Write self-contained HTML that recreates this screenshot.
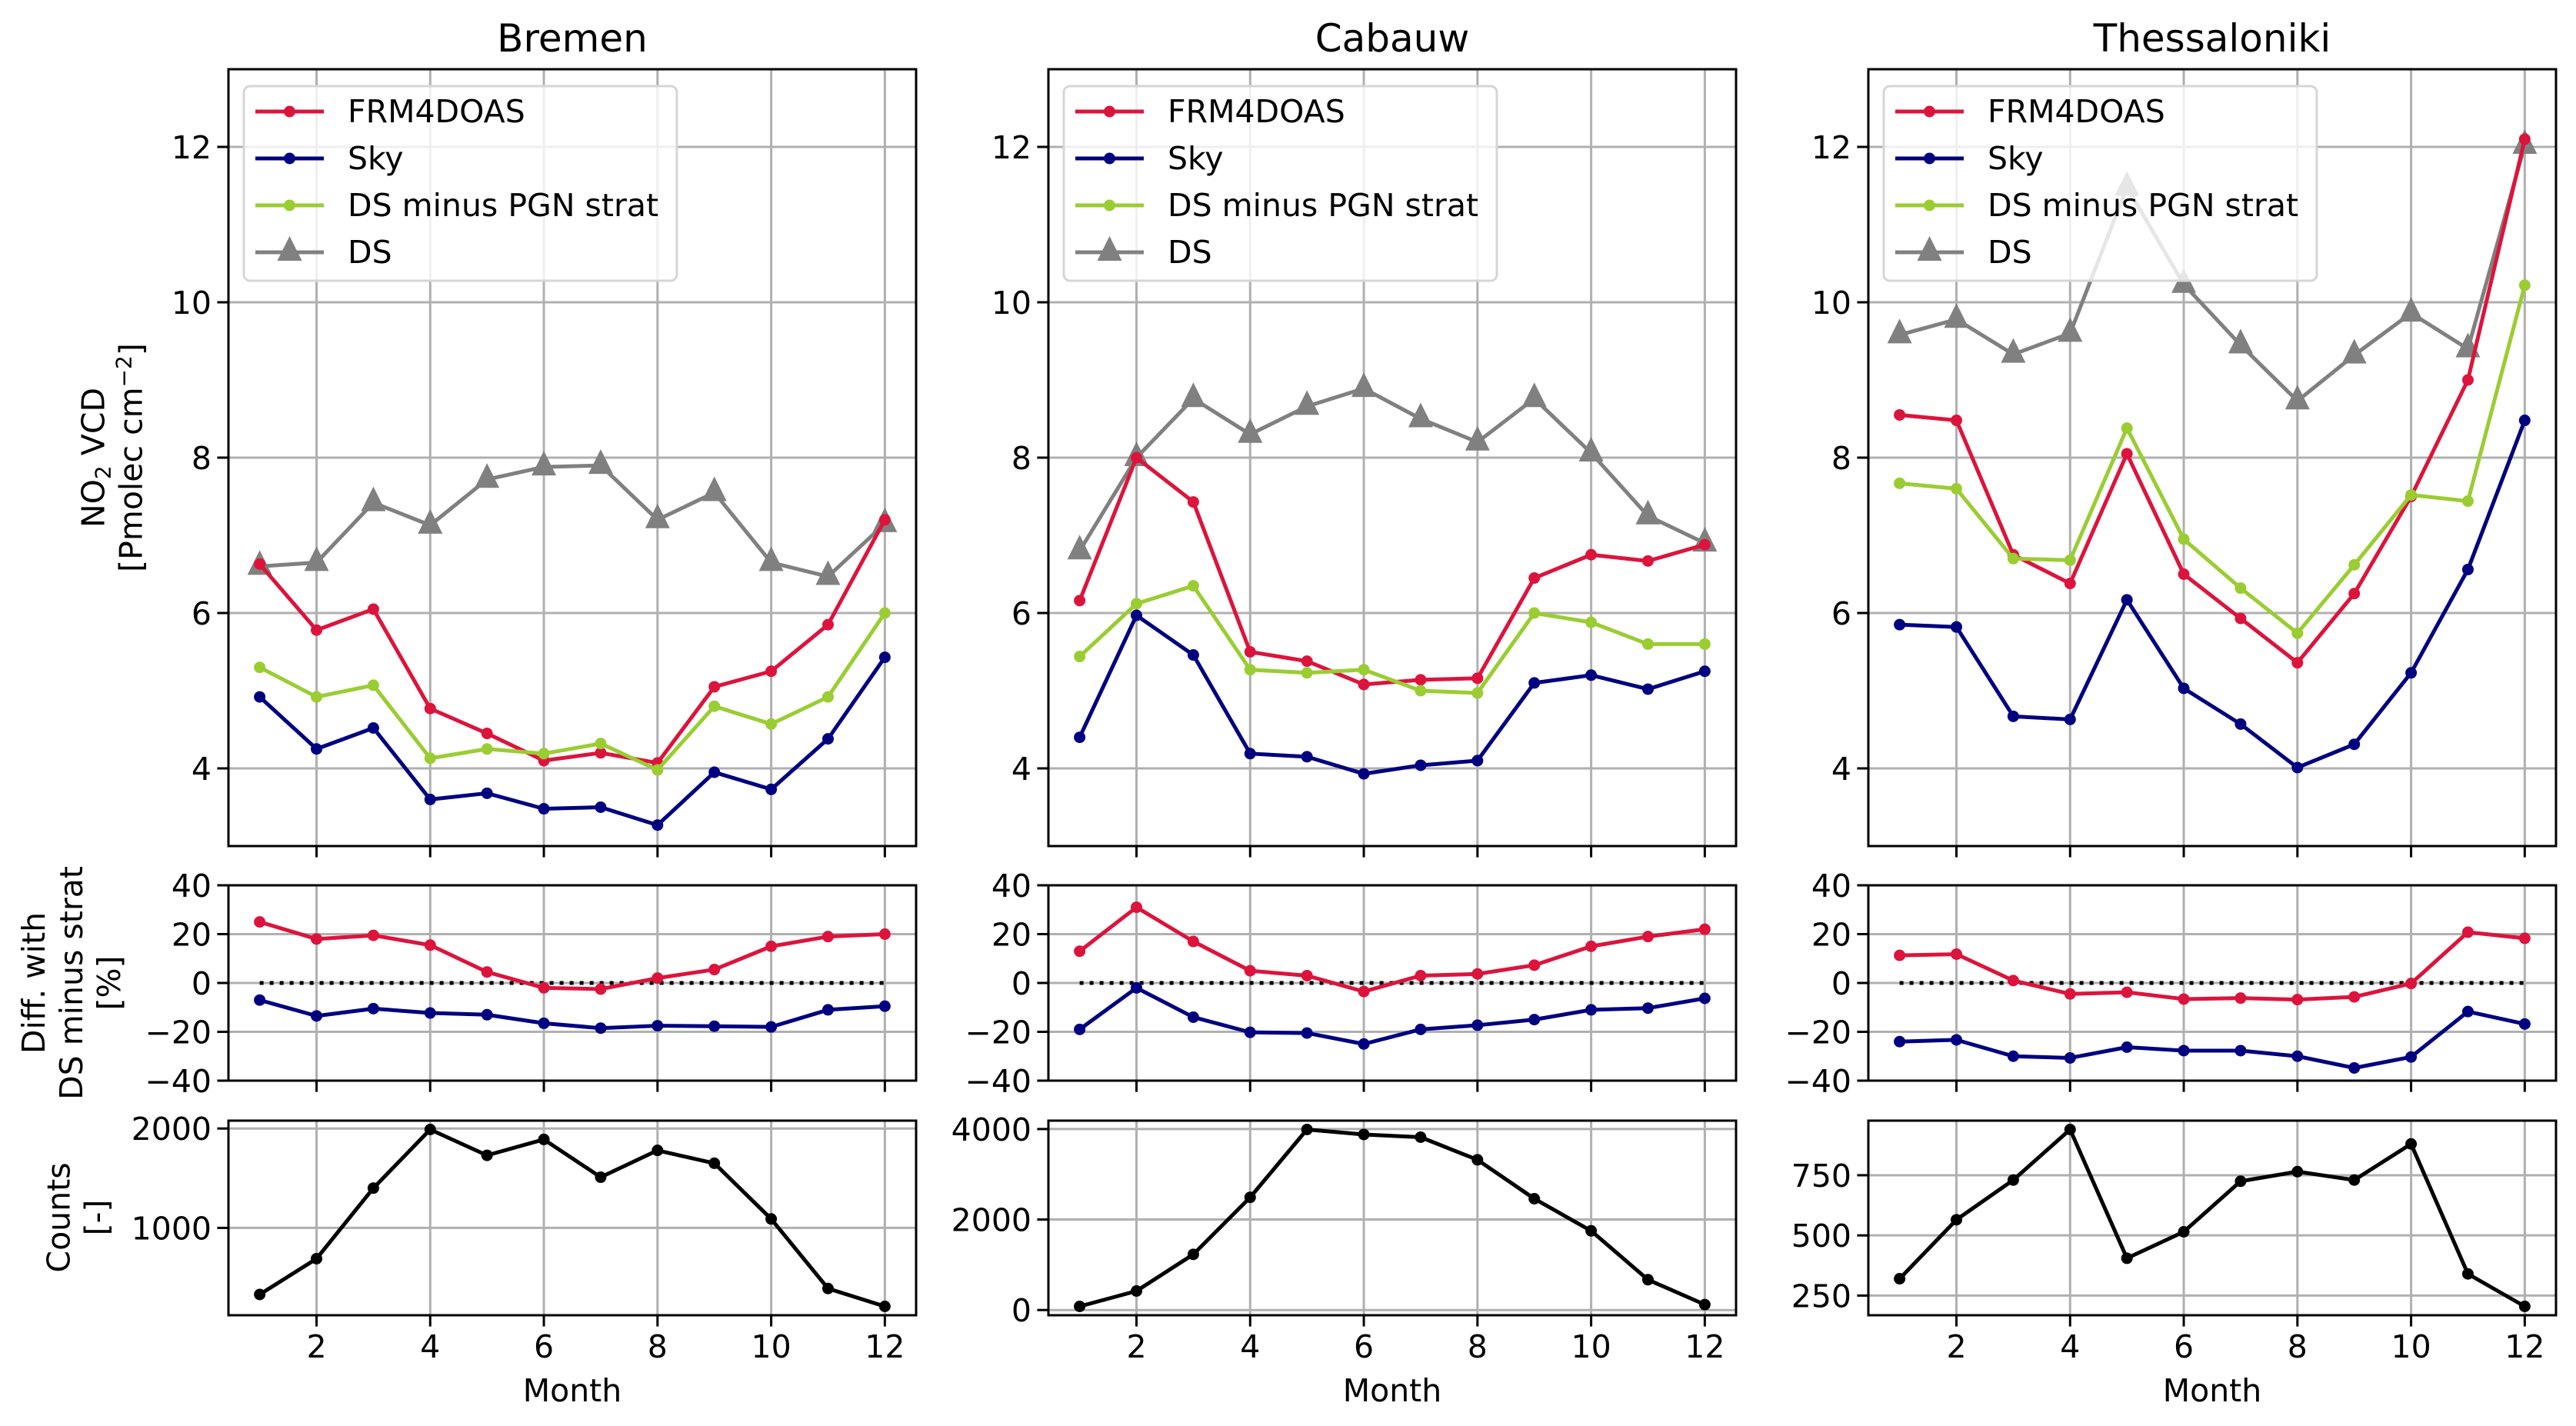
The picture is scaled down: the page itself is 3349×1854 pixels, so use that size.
<!DOCTYPE html>
<html><head><meta charset="utf-8"><style>
html,body{margin:0;padding:0;background:#fff;}
svg{display:block;font-family:"DejaVu Sans","Liberation Sans",sans-serif;}
</style></head><body>
<svg id="fig" width="3349" height="1854" viewBox="0 0 3349 1854" xmlns="http://www.w3.org/2000/svg"></svg>
<script>
const months=[1,2,3,4,5,6,7,8,9,10,11,12];
const stations=["Bremen","Cabauw","Thessaloniki"];
// VCD values [Pmolec cm^-2]
const bremenFRM=[6.63,5.78,6.05,4.77,4.45,4.10,4.20,4.07,5.05,5.25,5.85,7.20];
const bremenSky=[4.92,4.25,4.52,3.60,3.68,3.48,3.50,3.27,3.95,3.73,4.38,5.43];
const bremenDSm=[5.30,4.92,5.07,4.13,4.25,4.19,4.32,3.98,4.80,4.57,4.92,6.00];
const bremenDS=[6.60,6.65,7.42,7.13,7.72,7.88,7.90,7.20,7.55,6.65,6.47,7.15];
const cabauwFRM=[6.16,8.00,7.43,5.50,5.38,5.08,5.14,5.16,6.45,6.75,6.67,6.88];
const cabauwSky=[4.40,5.97,5.46,4.19,4.15,3.93,4.04,4.10,5.10,5.20,5.02,5.25];
const cabauwDSm=[5.44,6.12,6.35,5.27,5.23,5.27,5.00,4.97,6.00,5.88,5.60,5.60];
const cabauwDS=[6.80,8.00,8.76,8.30,8.66,8.89,8.50,8.20,8.76,8.06,7.25,6.90];
const thessFRM=[8.55,8.48,6.75,6.38,8.05,6.50,5.93,5.36,6.25,7.50,9.00,12.10];
const thessSky=[5.85,5.82,4.67,4.63,6.17,5.03,4.57,4.01,4.31,5.23,6.56,8.48];
const thessDSm=[7.67,7.60,6.70,6.68,8.38,6.95,6.32,5.74,6.62,7.52,7.44,10.22];
const thessDS=[9.58,9.78,9.33,9.60,11.48,10.23,9.45,8.73,9.32,9.86,9.40,12.02];
// Differences [%]
const bremenDiffFRM=[25,18,19.5,15.5,4.5,-2,-2.5,2,5.5,15,19,20];
const bremenDiffSky=[-7,-13.5,-10.5,-12.3,-13,-16.5,-18.5,-17.5,-17.7,-18,-11,-9.5];
const cabauwDiffFRM=[13,31,17,5,3,-3.5,3,3.7,7.3,15,19,22];
const cabauwDiffSky=[-19,-2,-14,-20.2,-20.5,-25,-19,-17.3,-15,-11,-10.3,-6.3];
const thessDiffFRM=[11.3,11.8,1,-4.5,-3.8,-6.6,-6.2,-6.8,-5.7,-0.2,20.8,18.3];
const thessDiffSky=[-24,-23.3,-30,-30.7,-26.3,-27.7,-27.7,-30,-34.8,-30.3,-11.7,-16.8];
// Counts
const bremenCounts=[330,690,1400,1990,1730,1890,1510,1780,1650,1090,390,210];
const cabauwCounts=[80,420,1230,2490,3990,3880,3820,3320,2460,1750,670,120];
const thessCounts=[320,565,730,940,405,515,725,765,730,880,340,205];
// Tick labels
const xTicks=[2,4,6,8,10,12];
const vcdTicks=[4,6,8,10,12];
const diffTicks=[-40,-20,0,20,40];
const bremenCountTicks=[1000,2000];
const cabauwCountTicks=[0,2000,4000];
const thessCountTicks=[250,500,750];
const legendLabels=["FRM4DOAS","Sky","DS minus PGN strat","DS"];

const NS="http://www.w3.org/2000/svg";
const svg=document.getElementById('fig');
function mk(tag,attrs,parent){const e=document.createElementNS(NS,tag);for(const k in attrs)e.setAttribute(k,attrs[k]);(parent||svg).appendChild(e);return e;}
function autolim(arr){const mn=Math.min(...arr),mx=Math.max(...arr),m=(mx-mn)*0.05;return [mn-m,mx+m];}

const colLeft=[297,1363,2429], W=894;
const rows=[{top:90,bot:1100},{top:1151,bot:1405},{top:1457,bot:1710}];
const C={frm:"#dc143c",sky:"#000080",dsm:"#9acd32",ds:"#808080"};
const data=[
 {frm:bremenFRM,sky:bremenSky,dsm:bremenDSm,ds:bremenDS,dF:bremenDiffFRM,dS:bremenDiffSky,cnt:bremenCounts,ct:bremenCountTicks},
 {frm:cabauwFRM,sky:cabauwSky,dsm:cabauwDSm,ds:cabauwDS,dF:cabauwDiffFRM,dS:cabauwDiffSky,cnt:cabauwCounts,ct:cabauwCountTicks},
 {frm:thessFRM,sky:thessSky,dsm:thessDSm,ds:thessDS,dF:thessDiffFRM,dS:thessDiffSky,cnt:thessCounts,ct:thessCountTicks}
];

function panel(ci,ri,ylim,yticks,name){
  const L=colLeft[ci],R=L+W,T=rows[ri].top,B=rows[ri].bot;
  const x=v=>L+(v-0.45)/(12.55-0.45)*W;
  const y=v=>B-(v-ylim[0])/(ylim[1]-ylim[0])*(B-T);
  const g=mk('g',{});
  
  
  xTicks.forEach(t=>{const l=mk('line',{x1:x(t),x2:x(t),y1:T,y2:B,stroke:'#b0b0b0','stroke-width':3},g);
    const tk=mk('line',{x1:x(t),x2:x(t),y1:B,y2:B+14.6,stroke:'#000','stroke-width':3},g);
    if(ri===2){const tx=mk('text',{x:x(t),y:B+55,'font-size':41,'text-anchor':'middle'},g);tx.textContent=t;}
  });
  yticks.forEach(t=>{const yy=y(t);const l=mk('line',{x1:L,x2:R,y1:yy,y2:yy,stroke:'#b0b0b0','stroke-width':3},g);
    const tk=mk('line',{x1:L-14.6,x2:L,y1:yy,y2:yy,stroke:'#000','stroke-width':3},g);
    const tx=mk('text',{x:L-22,y:yy+15,'font-size':41,'text-anchor':'end'},g);tx.textContent=(t<0?'\u2212'+(-t):t);
  });
  return {g,x,y,L,R,T,B};
}
function series(p,vals,color,name,marker){
  const pts=months.map((m,i)=>p.x(m)+','+p.y(vals[i])).join(' ');
  const pl=mk('polyline',{points:pts,fill:'none',stroke:color,'stroke-width':5,'stroke-linejoin':'round'},p.g);
  
  months.forEach((m,i)=>{
    let e;const cx=p.x(m),cy=p.y(vals[i]);
    if(marker==='tri'){e=mk('polygon',{points:`${cx},${cy-21} ${cx-16},${cy+11} ${cx+16},${cy+11}`,fill:color},p.g);}
    else e=mk('circle',{cx:cx,cy:cy,r:7.5,fill:color},p.g);
    
  });
}
function frame(p){const r=mk('rect',{x:p.L,y:p.T,width:W,height:p.B-p.T,fill:'none',stroke:'#000','stroke-width':3},p.g);}

stations.forEach((st,ci)=>{
  const d=data[ci];
  const t=mk('text',{x:colLeft[ci]+W/2,y:67,'font-size':50,'text-anchor':'middle'});
  t.textContent=st;
  const p=panel(ci,0,[3,13],vcdTicks,'vcd-panel-'+st.toLowerCase());
  series(p,d.ds,C.ds,'ds','tri');
  series(p,d.frm,C.frm,'frm4doas');
  series(p,d.sky,C.sky,'sky');
  series(p,d.dsm,C.dsm,'ds-minus-pgn-strat');
  const lg=mk('g',{},p.g);
  const lx=p.L+20,ly=p.T+22;
  mk('rect',{x:lx,y:ly,width:563,height:253,rx:8,fill:'#fff','fill-opacity':0.8,stroke:'#d6d6d6','stroke-width':3},lg);
  const cols=[C.frm,C.sky,C.dsm,C.ds];
  legendLabels.forEach((lab,i)=>{
    const yy=ly+33+i*61;
    const e=mk('g',{},lg);
    mk('line',{x1:lx+15,x2:lx+104,y1:yy,y2:yy,stroke:cols[i],'stroke-width':5},e);
    if(i===3)mk('polygon',{points:`${lx+59.5},${yy-21} ${lx+43.5},${yy+11} ${lx+75.5},${yy+11}`,fill:cols[i]},e);
    else mk('circle',{cx:lx+59.5,cy:yy,r:7.5,fill:cols[i]},e);
    const tx=mk('text',{x:lx+135,y:yy+14,'font-size':41},e);tx.textContent=lab;
  });
  frame(p);
  const q=panel(ci,1,[-40,40],diffTicks,'diff-panel-'+st.toLowerCase());
  const zl=mk('line',{x1:q.x(1),x2:q.x(12),y1:q.y(0),y2:q.y(0),stroke:'#000','stroke-width':5,'stroke-dasharray':'5 8'},q.g);
  
  series(q,d.dF,C.frm,'diff-frm4doas');
  series(q,d.dS,C.sky,'diff-sky');
  frame(q);
  const r=panel(ci,2,autolim(d.cnt),d.ct,'counts-panel-'+st.toLowerCase());
  series(r,d.cnt,'#000','counts');
  frame(r);
  const mx=mk('text',{x:colLeft[ci]+W/2,y:1822,'font-size':41,'text-anchor':'middle'});
  mx.textContent='Month';
});
function vlabel(lines,cx,cy,name){
  const g=mk('g',{transform:`translate(${cx},${cy}) rotate(-90)`});
  
  const n=lines.length;
  lines.forEach((s,i)=>{const t=mk('text',{x:0,y:(i-(n-1)/2)*49+14,'font-size':41,'text-anchor':'middle'},g);t.innerHTML=s;});
}
vlabel(['NO<tspan font-size="28" dy="8">2</tspan><tspan dy="-8"> VCD</tspan>','[Pmolec cm<tspan font-size="28" dy="-14">\u22122</tspan><tspan dy="14">]</tspan>'],146,595,'y-axis-title-vcd');
vlabel(['Diff. with','DS minus strat','[%]'],93,1278,'y-axis-title-diff');
vlabel(['Counts','[-]'],101,1583,'y-axis-title-counts');
</script>
</body></html>
